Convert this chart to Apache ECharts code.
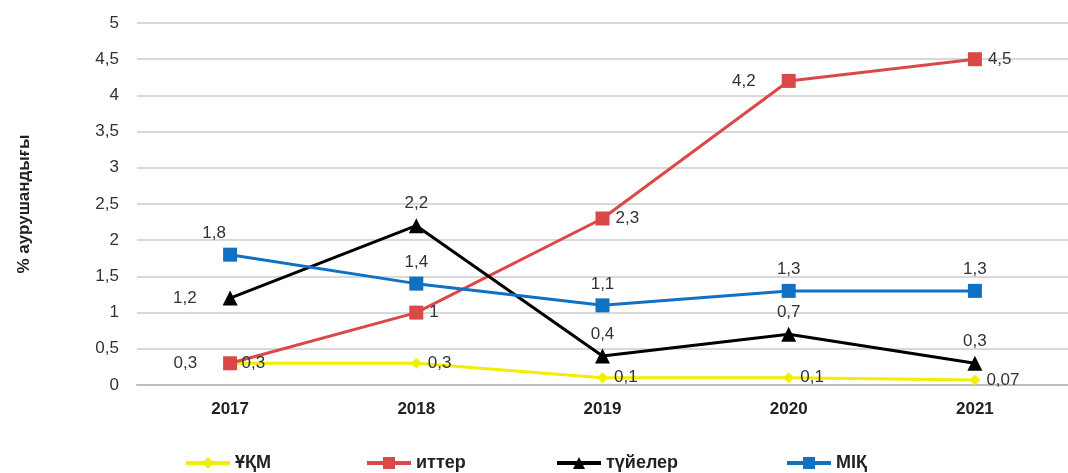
<!DOCTYPE html>
<html>
<head>
<meta charset="utf-8">
<script src="https://cdn.jsdelivr.net/npm/echarts@6/dist/echarts.min.js"></script>
<style>
  html, body { margin: 0; padding: 0; background: #fff; }
</style>
</head>
<body>
<div id="chart" style="width: 1068px;height: 473px;"></div>
<script>
const years = ['2017', '2018', '2019', '2020', '2021']
const ukm = [0.3, 0.3, 0.1, 0.1, 0.07]
const itter = [0.3, 1, 2.3, 4.2, 4.5]
const tuieler = [1.2, 2.2, 0.4, 0.7, 0.3]
const mik = [1.8, 1.4, 1.1, 1.3, 1.3]
const yTicks = [0, 0.5, 1, 1.5, 2, 2.5, 3, 3.5, 4, 4.5, 5]

// label placement per point, like in the original picture
const ukmPos = ['right', 'right', 'right', 'right', 'right']
const itterPos = ['left', 'right', 'right', 'left', 'right']
const tuielerPos = ['left', 'top', 'top', 'top', 'top']
const mikPos = ['top', 'top', 'top', 'top', 'top']

const comma = v => String(v).replace('.', ',')
const font = '"Liberation Sans", Arial, sans-serif'

function makeData(values, pos) {
    return values.map((v, i) => {
        let lbl = { position: pos[i] }
        if (pos[i] == 'left') lbl.distance = 26
        return { value: v, label: lbl }
    })
}

function makeSeries(name, values, pos, color, symbol, size) {
    return {
        name: name,
        type: 'line',
        data: makeData(values, pos),
        symbol: symbol,
        symbolSize: size,
        lineStyle: { color: color, width: 3 },
        itemStyle: { color: color },
        label: {
            show: true,
            color: '#333',
            fontSize: 17,
            fontFamily: font,
            distance: 6,
            formatter: p => comma(p.value)
        }
    }
}

function makeLegend(name, left) {
    return {
        data: [name],
        left: left,
        top: 452,
        padding: 2,
        itemWidth: 44,
        itemHeight: 15,
        itemGap: 0,
        lineStyle: { width: 4 },
        textStyle: { fontSize: 18, fontWeight: 'bold', color: '#222', fontFamily: font }
    }
}

const option = {
    animation: false,
    grid: { left: 137, top: 23, right: -7, bottom: 88 },
    legend: [
        makeLegend('ҰҚМ', 182),
        makeLegend('иттер', 363),
        makeLegend('түйелер', 553),
        makeLegend('МІҚ', 783)
    ],
    xAxis: {
        type: 'category',
        data: years,
        boundaryGap: true,
        axisTick: { show: false },
        axisLine: { lineStyle: { color: '#bfbfbf', width: 2 } },
        axisLabel: { fontSize: 17, fontWeight: 'bold', color: '#222', margin: 16, fontFamily: font }
    },
    yAxis: {
        type: 'value',
        min: yTicks[0],
        max: yTicks[yTicks.length - 1],
        interval: 0.5,
        name: '% аурушандығы',
        nameLocation: 'middle',
        nameGap: 104,
        nameTextStyle: { fontSize: 17, fontWeight: 'bold', color: '#222', fontFamily: font },
        axisLine: { show: false },
        axisTick: { show: false },
        axisLabel: { fontSize: 17, color: '#333', margin: 18, fontFamily: font, formatter: v => comma(v) },
        splitLine: { lineStyle: { color: '#d9d9d9', width: 2 } }
    },
    series: [
        makeSeries('ҰҚМ', ukm, ukmPos, '#f2ee00', 'diamond', 11),
        makeSeries('иттер', itter, itterPos, '#db4848', 'rect', 14),
        makeSeries('түйелер', tuieler, tuielerPos, '#000000', 'triangle', 15),
        makeSeries('МІҚ', mik, mikPos, '#1070c4', 'rect', 14)
    ]
}
// blue 2017 label sits a bit to the left
option.series[3].data[0].label.offset = [-16, 0]

let myChart = echarts.init(document.getElementById('chart'))
myChart.setOption(option)
</script>
</body>
</html>
